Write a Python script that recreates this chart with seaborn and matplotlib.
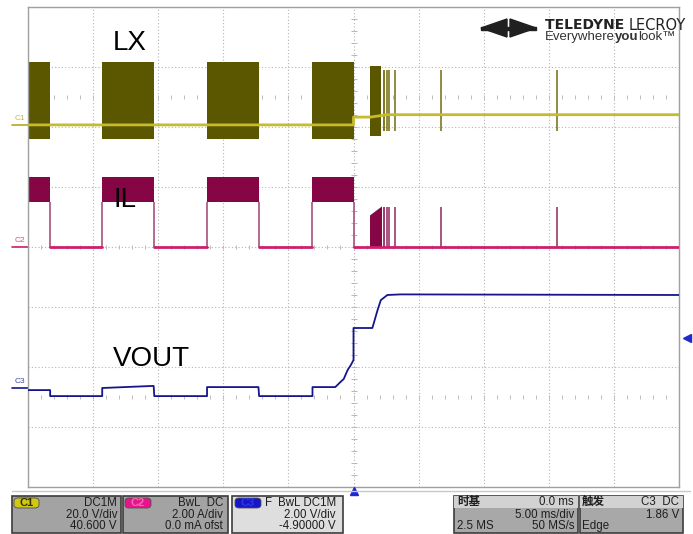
import matplotlib.pyplot as plt
from matplotlib.patches import Rectangle, FancyBboxPatch, Polygon
from matplotlib.lines import Line2D
import numpy as np
import seaborn as sns

W, H = 693, 534

# channel set-up
c1_scale, c1_ofs = 20.0, 40.6     # LX   V/div, V
c2_scale, c2_ofs = 2.0, 0.0       # IL   A/div, A
c3_scale, c3_ofs = 2.0, -4.9      # VOUT V/div, V
trig_level = 1.86                 # V on C3

# switching bursts before the trigger (ms)
burst_start = [-25.0, -19.3, -11.25, -3.15]
burst_end = [-23.3, -15.3, -7.25, 0.0]
lx_hi, lx_lo = 21.0, -4.6         # V  envelope of the LX ringing
il_hi, il_lo = 2.35, 1.5          # A  envelope of the IL ripple

# LX idle level
lx_t = [-25.0, 0.0, 0.0, 1.3, 2.6, 25.0]
lx_v = [0.1, 0.1, 2.7, 2.7, 3.5, 3.5]

# start-up burst after the trigger
start_t = [1.23, 2.15]
lx_start_hi, lx_start_lo = 19.7, -3.6
il_start = [1.07, 1.37]
spike_t = [2.31, 2.38, 2.54, 2.69, 3.15, 6.69, 15.6]
lx_spike_hi, lx_spike_lo = 18.4, -2.0
il_spike = 1.35

# output voltage
vout_t = [-25.0, -23.3, -23.3, -19.3, -19.3, -15.35, -15.3, -11.25, -11.25,
          -7.3, -7.25, -3.15, -3.15, -1.4, -1.0, -0.75, -0.45, -0.2, 0.0,
          0.0, 1.3, 1.45, 1.85, 2.1, 2.6, 3.6, 25.0]
vout_v = [0.13, 0.13, -0.07, -0.07, 0.2, 0.27, -0.07, -0.07, 0.23,
          0.23, -0.07, -0.07, 0.23, 0.23, 0.4, 0.5, 0.8, 0.97, 1.13,
          2.2, 2.2, 2.2, 2.8, 3.13, 3.3, 3.32, 3.3]

LX_FILL, LX_LINE = "#5b5700", "#c4bc2c"
IL_FILL, IL_EDGE, IL_LINE = "#850545", "#a8507e", "#cc1f6c"
VOUT_COL = "#16168a"


def div(v, scale, ofs):
    return (np.asarray(v, dtype=float) + ofs) / scale


def px(x, y):
    return x / W, 1 - y / H


sns.set_style("white")
plt.rcParams["font.family"] = ["Liberation Sans", "Noto Sans CJK SC", "DejaVu Sans"]

fig = plt.figure(figsize=(W / 100, H / 100), dpi=100)
x0, y0 = px(28, 487)
ax = fig.add_axes([x0, y0, (679 - 28) / W, (487 - 7) / H])
ax.set_xlim(-25, 25)
ax.set_ylim(-4, 4)

# graticule
ax.set_xticks(np.arange(-25, 26, 5))
ax.set_yticks(np.arange(-4, 5, 1))
ax.grid(True, color="#b4b4b4", ls=(0, (1, 2)), lw=0.8)
ax.tick_params(length=0, labelbottom=False, labelleft=False)
for s in ax.spines.values():
    s.set_color("#a0a0a0")
    s.set_linewidth(1.0)
ticks_x = np.arange(-25, 25.01, 1.0)
for yy in [2.5, 0.0, -2.5]:
    ax.plot(ticks_x, np.full_like(ticks_x, yy), ls="none", marker="|",
            ms=3, color="#bcbcbc", mew=0.7, zorder=1)
ticks_y = np.arange(-4, 4.01, 0.2)
ax.plot(np.zeros_like(ticks_y), ticks_y, ls="none", marker="_", ms=4,
        color="#b8b8b8", mew=0.7, zorder=1)

# ---- C1 : LX
for a, b in zip(burst_start, burst_end):
    ax.fill_between([a, b], div(lx_lo, c1_scale, c1_ofs), div(lx_hi, c1_scale, c1_ofs),
                    color=LX_FILL, lw=0, zorder=2)
ax.fill_between(start_t, div(lx_start_lo, c1_scale, c1_ofs),
                div(lx_start_hi, c1_scale, c1_ofs), color=LX_FILL, lw=0, zorder=2)
ax.vlines(spike_t, div(lx_spike_lo, c1_scale, c1_ofs), div(lx_spike_hi, c1_scale, c1_ofs),
          color="#7d7820", lw=1.2, zorder=2)
sns.lineplot(x=lx_t, y=div(lx_v, c1_scale, c1_ofs), estimator=None, sort=False,
             color=LX_LINE, lw=2, ax=ax, zorder=3)

# ---- C2 : IL
for i, (a, b) in enumerate(zip(burst_start, burst_end)):
    ax.fill_between([a, b], div(il_lo, c2_scale, c2_ofs), div(il_hi, c2_scale, c2_ofs),
                    color=IL_FILL, lw=0, zorder=2)
    edges = [b] if i == 0 else [a, b]
    ax.vlines(edges, 0, div(il_lo, c2_scale, c2_ofs), color=IL_EDGE, lw=1.2, zorder=2)
gaps = list(zip(burst_end, burst_start[1:])) + [(burst_end[-1], 25.0)]
for a, b in gaps:
    sns.lineplot(x=[a, b], y=[0, 0], estimator=None, color=IL_LINE, lw=2, ax=ax, zorder=3)
ax.fill_between(start_t, 0, div(il_start, c2_scale, c2_ofs), color=IL_FILL, lw=0, zorder=2)
ax.vlines(spike_t, 0, div(il_spike, c2_scale, c2_ofs), color="#9a3a6a", lw=1.2, zorder=2)

# ---- C3 : VOUT
sns.lineplot(x=vout_t, y=div(vout_v, c3_scale, c3_ofs), estimator=None, sort=False,
             color=VOUT_COL, lw=1.3, ax=ax, zorder=3)

# trigger markers
ax.plot([25.6], [div(trig_level, c3_scale, c3_ofs)], marker="<", ms=6,
        color="#1c2ad0", clip_on=False, zorder=5)
ax.plot([0], [-4.06], marker="^", ms=6, color="#1c2ad0", clip_on=False, zorder=5)

# channel ground markers
for name, yy, col in [("C1", div(0, c1_scale, c1_ofs), "#b4aa18"),
                      ("C2", 0.0, IL_LINE), ("C3", -2.35, VOUT_COL)]:
    ax.plot([-26.2, -25.0], [yy, yy], color=col, lw=1.2, clip_on=False)
    ax.text(-25.6, yy + 0.05, name, color=col, fontsize=6, ha="center", va="bottom",
            clip_on=False, alpha=0.8)

# trace labels
for txt, yy in [("LX", 43), ("IL", 200), ("VOUT", 359)]:
    fig.text(*px(113, yy), txt, fontsize=20, color="black", va="center", ha="left")

# logo
fig.patches.append(Polygon([px(481, 28), px(507, 19), px(507, 37)], closed=True,
                           transform=fig.transFigure, color="#202020"))
fig.patches.append(Polygon([px(536, 28), px(510, 19), px(510, 37)], closed=True,
                           transform=fig.transFigure, color="#202020"))
fig.patches.append(Rectangle(px(481, 30), 55 / W, 3 / H, transform=fig.transFigure,
                             color="#202020"))


def chain(x, y, parts):
    # place text pieces one after another on a line
    r = fig.canvas.get_renderer()
    for s, kw in parts:
        tx = fig.text(*px(x, y), s, va="center", ha="left", **kw)
        bb = tx.get_window_extent(renderer=r)
        x += bb.width


chain(545, 25, [("TELEDYNE ", dict(fontsize=10, weight="bold", family="DejaVu Sans",
                                     color="#222222")),
                ("LECROY", dict(fontsize=10.5, family="DejaVu Sans", color="#222222"))])
chain(545, 37, [("Everywhere", dict(fontsize=9.5, color="#333333")),
                ("you", dict(fontsize=9.5, weight="bold", color="#333333")),
                ("look\u2122", dict(fontsize=9.5, color="#333333"))])

# info bar
fig.lines.append(Line2D([12 / W, 690 / W], [1 - 491 / H] * 2, transform=fig.transFigure,
                        color="#c8c8c8", lw=1))


def box(xa, xb, fill, head=None):
    fig.patches.append(Rectangle(px(xa, 533), (xb - xa) / W, 37 / H, transform=fig.transFigure,
                                 fc=fill, ec="#3c3c3c", lw=1.2))
    if head:
        fig.patches.append(Rectangle(px(xa, 508), (xb - xa) / W, 12 / H,
                                     transform=fig.transFigure, fc=head, ec="none"))


def badge(xa, xb, col, name, tcol):
    fig.patches.append(FancyBboxPatch(px(xa, 508), (xb - xa) / W, 10 / H,
                                      boxstyle="round,pad=0,rounding_size=0.006",
                                      transform=fig.transFigure, fc=col, ec="#505050", lw=0.6))
    fig.text(*px((xa + xb) / 2, 503), name, fontsize=8, weight="bold", color=tcol,
             ha="center", va="center")


def t(x, y, s, ha="right", **kw):
    fig.text(*px(x, y), s, fontsize=8.3, color="#1e1e1e", ha=ha, va="center", **kw)


box(12, 121, "#a3a3a3")
badge(14, 39, "#d0c814", "C1", "#333000")
t(117, 503, "DC1M")
t(117, 515, "20.0 V/div")
t(117, 526, "40.600 V")

box(123, 228, "#a3a3a3")
badge(125, 151, "#e8148c", "C2", "#f070b0")
t(223, 503, "BwL  DC")
t(223, 515, "2.00 A/div")
t(223, 526, "0.0 mA ofst")

box(232, 343, "#dedede")
badge(235, 261, "#1616c8", "C3", "#2a3ae0")
t(265, 503, "F", ha="left")
t(336, 503, "BwL DC1M")
t(336, 515, "2.00 V/div")
t(336, 526, "-4.90000 V")

box(454, 578, "#a8a8a8", head="#d2d2d2")
t(457, 502, "时基", ha="left", weight="bold")
t(574, 502, "0.0 ms")
t(574, 515, "5.00 ms/div")
t(457, 526, "2.5 MS", ha="left")
t(574, 526, "50 MS/s")

box(580, 683, "#a8a8a8", head="#d2d2d2")
t(582, 502, "触发", ha="left", weight="bold")
t(679, 502, "C3  DC")
t(679, 515, "1.86 V")
t(582, 526, "Edge", ha="left")

fig.savefig("out.png", dpi=100)
